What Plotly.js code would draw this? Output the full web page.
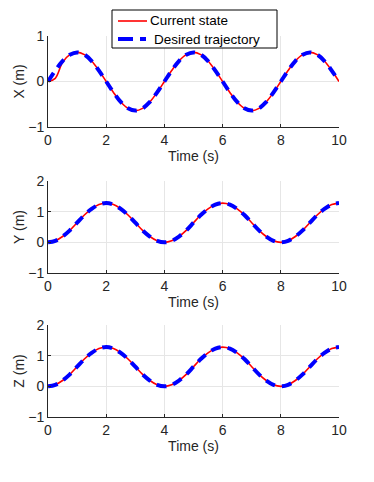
<!DOCTYPE html>
<html>
<head>
<meta charset="utf-8">
<script src="https://cdn.plot.ly/plotly-3.0.1.min.js"></script>
<style>
  html, body { margin: 0; padding: 0; background: #fff; }
  #chart { width: 374px; height: 482px; }
</style>
</head>
<body>
<div id="chart"></div>
<script>
// time samples (s)
const time = [0, 0.25, 0.5, 0.75, 1, 1.25, 1.5, 1.75, 2, 2.25, 2.5, 2.75, 3, 3.25, 3.5, 3.75,
  4, 4.25, 4.5, 4.75, 5, 5.25, 5.5, 5.75, 6, 6.25, 6.5, 6.75, 7, 7.25, 7.5, 7.75,
  8, 8.25, 8.5, 8.75, 9, 9.25, 9.5, 9.75, 10];

// X (m)
const xDesired = [0, 0.24, 0.45, 0.59, 0.64, 0.59, 0.45, 0.24, 0, -0.24, -0.45, -0.59, -0.64, -0.59, -0.45, -0.24,
  0, 0.24, 0.45, 0.59, 0.64, 0.59, 0.45, 0.24, 0, -0.24, -0.45, -0.59, -0.64, -0.59, -0.45, -0.24,
  0, 0.24, 0.45, 0.59, 0.64, 0.59, 0.45, 0.24, 0];
const xCurrent = [0, 0.07, 0.42, 0.59, 0.64, 0.59, 0.45, 0.24, 0, -0.24, -0.45, -0.59, -0.64, -0.59, -0.45, -0.24,
  0, 0.24, 0.45, 0.59, 0.64, 0.59, 0.45, 0.24, 0, -0.24, -0.45, -0.59, -0.64, -0.59, -0.45, -0.24,
  0, 0.24, 0.45, 0.59, 0.64, 0.59, 0.45, 0.24, 0];

// Y (m)
const yDesired = [0, 0.05, 0.19, 0.39, 0.64, 0.89, 1.09, 1.23, 1.28, 1.23, 1.09, 0.89, 0.64, 0.39, 0.19, 0.05,
  0, 0.05, 0.19, 0.39, 0.64, 0.89, 1.09, 1.23, 1.28, 1.23, 1.09, 0.89, 0.64, 0.39, 0.19, 0.05,
  0, 0.05, 0.19, 0.39, 0.64, 0.89, 1.09, 1.23, 1.28];
const yCurrent = yDesired.slice();

// Z (m)
const zDesired = [0, 0.05, 0.19, 0.39, 0.64, 0.89, 1.09, 1.23, 1.28, 1.23, 1.09, 0.89, 0.64, 0.39, 0.19, 0.05,
  0, 0.05, 0.19, 0.39, 0.64, 0.89, 1.09, 1.23, 1.28, 1.23, 1.09, 0.89, 0.64, 0.39, 0.19, 0.05,
  0, 0.05, 0.19, 0.39, 0.64, 0.89, 1.09, 1.23, 1.28];
const zCurrent = zDesired.slice();

const xTicks = [0, 2, 4, 6, 8, 10];
const panelNames = ['X (m)', 'Y (m)', 'Z (m)'];
const legendNames = ['Current state', 'Desired trajectory'];

const axisColor = '#262626';
const gridColor = '#e6e6e6';
const font = { family: 'Liberation Sans, Arial, sans-serif', size: 14, color: axisColor };

const currentLine = { color: '#ff0000', width: 1.6, shape: 'spline' };
const desiredLine = { color: '#0000ff', width: 4, dash: '10px,7px', shape: 'spline' };

const series = [[xCurrent, xDesired], [yCurrent, yDesired], [zCurrent, zDesired]];
const traces = [];
series.forEach((pair, i) => {
  const sfx = i === 0 ? '' : String(i + 1);
  traces.push({
    x: time, y: pair[0], type: 'scatter', mode: 'lines', name: legendNames[0],
    line: currentLine, xaxis: 'x' + sfx, yaxis: 'y' + sfx
  });
  traces.push({
    x: time, y: pair[1], type: 'scatter', mode: 'lines', name: legendNames[1],
    line: desiredLine, xaxis: 'x' + sfx, yaxis: 'y' + sfx
  });
});

const H = 482, W = 374;
const px = v => v / W;
const py = v => 1 - v / H;
const xDom = [px(48), px(339)];
const panels = [[36, 127], [181, 273], [325, 417]];
const yRanges = [[-1, 1], [-1, 2], [-1, 2]];

// MATLAB-style legend box, drawn in paper space (plotly's own legend is too tall)
const shapes = [
  { type: 'rect', xref: 'paper', yref: 'paper', x0: px(112), x1: px(277), y0: py(48), y1: py(10),
    fillcolor: '#fff', line: { color: '#000', width: 1 }, layer: 'above' },
  { type: 'line', xref: 'paper', yref: 'paper', x0: px(118), x1: px(147), y0: py(21), y1: py(21),
    line: { color: currentLine.color, width: currentLine.width }, layer: 'above' },
  { type: 'line', xref: 'paper', yref: 'paper', x0: px(118), x1: px(146), y0: py(39), y1: py(39),
    line: { color: desiredLine.color, width: desiredLine.width, dash: '15px,7px' }, layer: 'above' }
];
const legendFont = { family: font.family, size: 13.5, color: '#000' };
const annotations = [
  { xref: 'paper', yref: 'paper', x: px(148), y: py(21), xanchor: 'left', yanchor: 'middle',
    text: legendNames[0], showarrow: false, font: legendFont },
  { xref: 'paper', yref: 'paper', x: px(152), y: py(39), xanchor: 'left', yanchor: 'middle',
    text: legendNames[1], showarrow: false, font: legendFont }
];

const layout = {
  width: W, height: H,
  margin: { l: 0, r: 0, t: 0, b: 0 },
  paper_bgcolor: '#fff', plot_bgcolor: '#fff',
  font: font,
  showlegend: false,
  shapes: shapes,
  annotations: annotations
};

panels.forEach((p, i) => {
  const sfx = i === 0 ? '' : String(i + 1);
  layout['xaxis' + sfx] = {
    domain: xDom, anchor: 'y' + sfx, range: [0, 10],
    tickvals: xTicks, ticks: 'inside', ticklen: 3, tickcolor: axisColor,
    showline: true, linecolor: axisColor, linewidth: 1,
    showgrid: true, gridcolor: gridColor, zeroline: false,
    title: { text: 'Time (s)', font: font, standoff: 4 },
    tickfont: font
  };
  layout['yaxis' + sfx] = {
    domain: [py(p[1]), py(p[0])], anchor: 'x' + sfx, range: yRanges[i],
    dtick: 1, ticks: 'inside', ticklen: 3, tickcolor: axisColor,
    showline: true, linecolor: axisColor, linewidth: 1,
    showgrid: true, gridcolor: gridColor, zeroline: false,
    title: { text: panelNames[i], font: font, standoff: 0 },
    tickfont: font
  };
});

Plotly.newPlot('chart', traces, layout, { staticPlot: true });
</script>
</body>
</html>
